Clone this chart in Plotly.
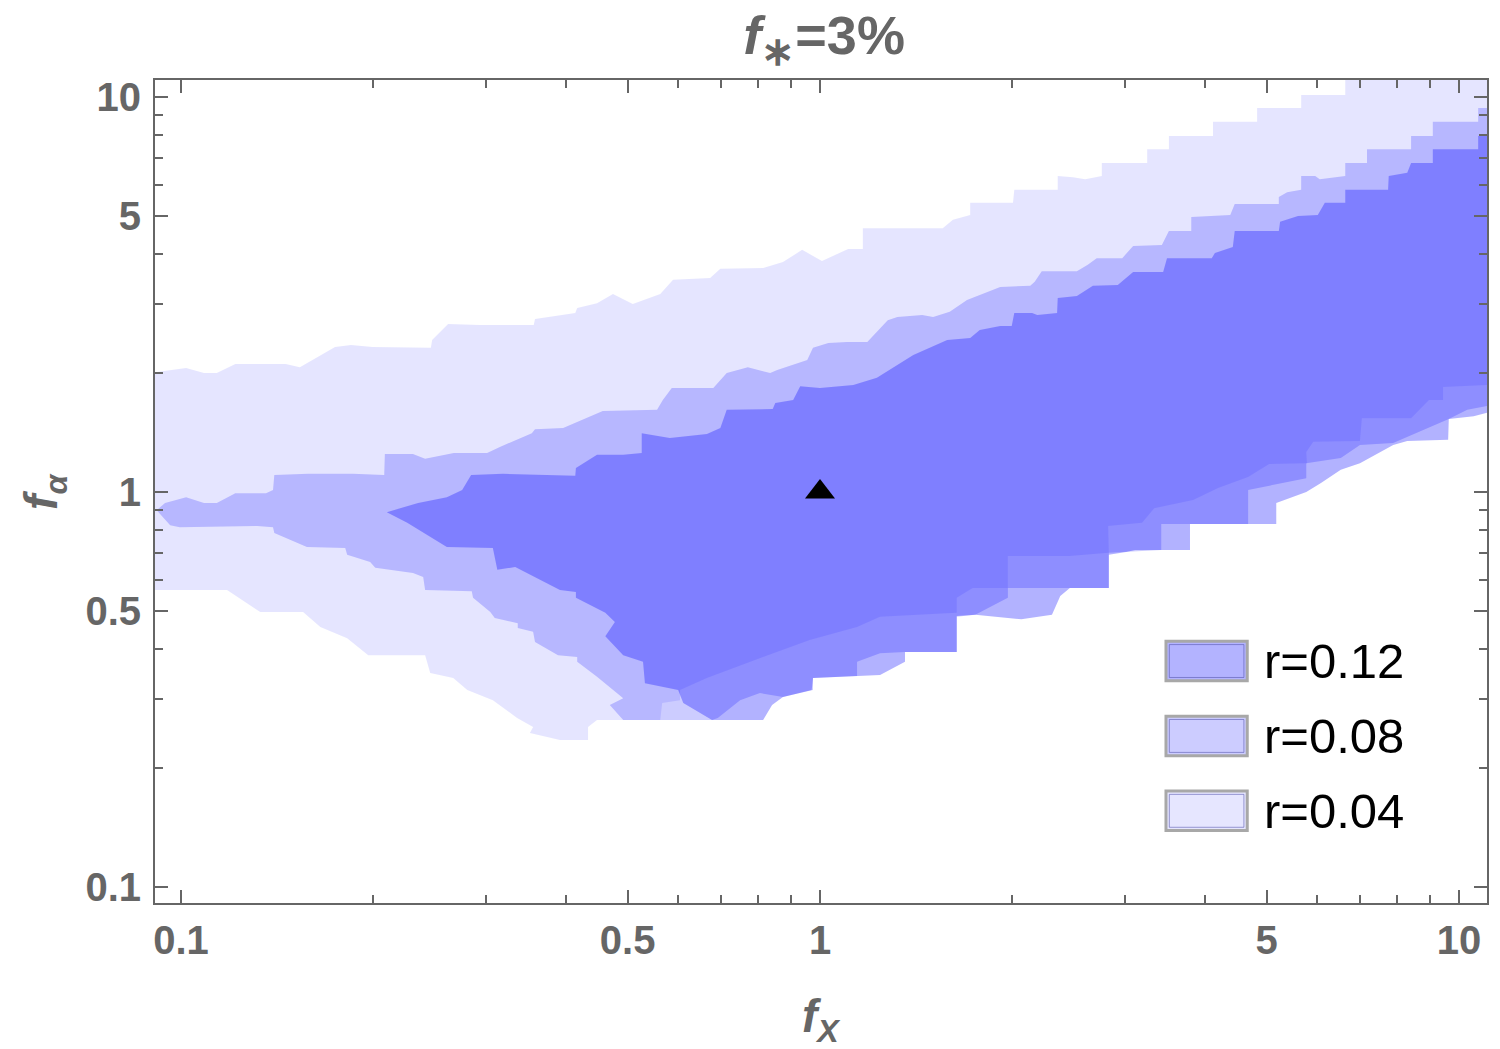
import numpy as np
import plotly.graph_objects as go

# boundaries of the three regions, as log10(f_X), log10(f_alpha)
light_upper_lx = [-1.05, -0.992, -0.964, -0.944, -0.915, -0.836, -0.814, -0.759, -0.734, -0.700,
                  -0.609, -0.607, -0.582, -0.532, -0.448, -0.446, -0.383, -0.380, -0.349, -0.324,
                  -0.293, -0.250, -0.230, -0.172, -0.156, -0.089, -0.058, -0.028, 0.003, 0.044,
                  0.067, 0.067, 0.192, 0.208, 0.235, 0.235, 0.302, 0.304, 0.372, 0.372,
                  0.396, 0.415, 0.441, 0.441, 0.512, 0.512, 0.546, 0.546, 0.615, 0.615,
                  0.684, 0.684, 0.753, 0.753, 0.822, 0.822, 1.05]
light_upper_ly = [0.301, 0.314, 0.301, 0.301, 0.324, 0.324, 0.316, 0.367, 0.372, 0.367,
                  0.365, 0.385, 0.425, 0.423, 0.423, 0.438, 0.453, 0.466, 0.478, 0.501,
                  0.476, 0.501, 0.537, 0.542, 0.565, 0.567, 0.582, 0.613, 0.585, 0.615,
                  0.615, 0.668, 0.668, 0.689, 0.701, 0.732, 0.732, 0.765, 0.765, 0.800,
                  0.797, 0.792, 0.800, 0.833, 0.833, 0.868, 0.868, 0.901, 0.901, 0.937,
                  0.937, 0.972, 0.972, 1.005, 1.005, 1.05, 1.05]
light_lower_lx = [-1.05, -0.928, -0.876, -0.809, -0.782, -0.740, -0.707, -0.618, -0.610, -0.574,
                  -0.552, -0.512, -0.474, -0.449, -0.454, -0.407, -0.363, -0.363, -0.349, -0.250,
                  -0.247, -0.219, -0.219, -0.177, -0.089, -0.016, 0.058, 0.094, 0.214, 0.214,
                  0.239, 0.294, 0.294, 0.391, 0.452, 0.451, 0.504, 0.523, 0.584, 0.623,
                  0.670, 0.703, 0.762, 0.761, 0.772, 0.845, 0.848, 0.925, 0.953, 0.975,
                  0.975, 1.05]
light_lower_ly = [-0.248, -0.248, -0.304, -0.304, -0.342, -0.370, -0.413, -0.413, -0.458, -0.471,
                  -0.501, -0.527, -0.572, -0.595, -0.610, -0.628, -0.628, -0.595, -0.577, -0.577,
                  -0.534, -0.527, -0.501, -0.471, -0.418, -0.375, -0.342, -0.316, -0.306, -0.268,
                  -0.243, -0.243, -0.162, -0.162, -0.154, -0.086, -0.078, -0.041, -0.020, 0.010,
                  0.038, 0.071, 0.073, 0.101, 0.127, 0.129, 0.187, 0.187, 0.233, 0.233,
                  0.266, 0.271]

mid_upper_lx = [-1.038, -1.025, -0.992, -0.964, -0.944, -0.915, -0.867, -0.856, -0.854, -0.801,
                -0.731, -0.682, -0.681, -0.637, -0.618, -0.573, -0.521, -0.501, -0.451, -0.446,
                -0.402, -0.360, -0.340, -0.255, -0.246, -0.232, -0.167, -0.146, -0.113, -0.078,
                -0.067, -0.020, -0.011, 0.013, 0.042, 0.074, 0.106, 0.121, 0.160, 0.177,
                0.203, 0.230, 0.269, 0.282, 0.329, 0.336, 0.347, 0.402, 0.419, 0.433,
                0.473, 0.490, 0.535, 0.546, 0.581, 0.581, 0.642, 0.649, 0.718, 0.718,
                0.731, 0.753, 0.753, 0.775, 0.782, 0.822, 0.822, 0.856, 0.856, 0.925,
                0.925, 0.959, 0.959, 1.030, 1.030, 1.05]
mid_upper_ly = [-0.046, -0.028, -0.013, -0.028, -0.028, -0.003, -0.003, 0.005, 0.043, 0.046,
                0.046, 0.043, 0.096, 0.096, 0.084, 0.099, 0.099, 0.114, 0.149, 0.159,
                0.162, 0.190, 0.205, 0.208, 0.233, 0.263, 0.263, 0.301, 0.316, 0.301,
                0.309, 0.334, 0.365, 0.377, 0.380, 0.380, 0.435, 0.443, 0.448, 0.443,
                0.456, 0.486, 0.511, 0.519, 0.522, 0.532, 0.559, 0.559, 0.575, 0.592,
                0.592, 0.623, 0.625, 0.661, 0.661, 0.696, 0.701, 0.729, 0.729, 0.747,
                0.759, 0.765, 0.800, 0.800, 0.792, 0.800, 0.833, 0.833, 0.868, 0.868,
                0.901, 0.901, 0.937, 0.937, 0.972, 0.972]
mid_lower_lx = [-1.038, -1.017, -1.002, -0.881, -0.856, -0.854, -0.803, -0.743, -0.740, -0.704,
                -0.696, -0.637, -0.621, -0.618, -0.545, -0.543, -0.516, -0.509, -0.473, -0.473,
                -0.449, -0.446, -0.410, -0.380, -0.380, -0.349, -0.324, -0.308, -0.329, -0.308,
                -0.169, -0.160, -0.125, -0.094, -0.058, -0.011, -0.011, 0.058, 0.058, 0.094,
                0.133, 0.214, 0.214, 0.243, 0.294, 0.294, 0.452, 0.452, 0.534, 0.534,
                0.670, 0.670, 0.761, 0.761, 0.815, 0.845, 0.897, 0.984, 1.013, 1.05]
mid_lower_ly = [-0.046, -0.084, -0.089, -0.086, -0.089, -0.104, -0.139, -0.142, -0.159, -0.177,
                -0.192, -0.205, -0.215, -0.248, -0.251, -0.268, -0.304, -0.319, -0.332, -0.344,
                -0.354, -0.380, -0.413, -0.418, -0.430, -0.468, -0.501, -0.522, -0.539, -0.577,
                -0.577, -0.572, -0.527, -0.509, -0.519, -0.501, -0.471, -0.466, -0.430, -0.408,
                -0.405, -0.405, -0.316, -0.311, -0.268, -0.243, -0.243, -0.154, -0.147, -0.081,
                -0.081, 0.005, 0.035, 0.073, 0.086, 0.119, 0.124, 0.185, 0.208, 0.220]

dark_upper_lx = [-0.678, -0.629, -0.584, -0.560, -0.546, -0.496, -0.383, -0.382, -0.349, -0.308,
                 -0.279, -0.279, -0.235, -0.177, -0.156, -0.146, -0.074, -0.070, -0.042, -0.031,
                 0.000, 0.052, 0.089, 0.146, 0.199, 0.235, 0.250, 0.282, 0.300, 0.304,
                 0.332, 0.340, 0.371, 0.372, 0.402, 0.427, 0.466, 0.490, 0.537, 0.543,
                 0.613, 0.618, 0.646, 0.649, 0.718, 0.720, 0.748, 0.779, 0.790, 0.822,
                 0.822, 0.889, 0.890, 0.919, 0.925, 0.959, 0.959, 1.030, 1.030, 1.05]
dark_upper_ly = [-0.051, -0.028, -0.013, 0.005, 0.043, 0.046, 0.041, 0.061, 0.094, 0.094,
                 0.099, 0.149, 0.137, 0.147, 0.162, 0.208, 0.210, 0.225, 0.233, 0.268,
                 0.263, 0.271, 0.289, 0.347, 0.385, 0.390, 0.410, 0.420, 0.420, 0.453,
                 0.453, 0.448, 0.453, 0.491, 0.496, 0.522, 0.524, 0.557, 0.557, 0.592,
                 0.592, 0.605, 0.620, 0.661, 0.661, 0.684, 0.699, 0.701, 0.732, 0.732,
                 0.765, 0.765, 0.800, 0.808, 0.833, 0.833, 0.868, 0.868, 0.901, 0.901]
dark_lower_lx = [-0.678, -0.646, -0.637, -0.584, -0.512, -0.505, -0.477, -0.446, -0.407, -0.382,
                 -0.382, -0.336, -0.321, -0.336, -0.308, -0.277, -0.274, -0.222, -0.214, -0.169,
                 -0.089, -0.075, -0.058, -0.013, -0.011, 0.094, 0.133, 0.133, 0.214, 0.214,
                 0.243, 0.315, 0.363, 0.376, 0.391, 0.452, 0.452, 0.479, 0.493, 0.579,
                 0.579, 0.714, 0.714, 0.761, 0.784, 0.815, 0.845, 0.897, 0.919, 0.983,
                 0.984, 1.023, 1.05]
dark_lower_ly = [-0.051, -0.078, -0.086, -0.139, -0.142, -0.197, -0.190, -0.215, -0.248, -0.253,
                 -0.268, -0.306, -0.329, -0.365, -0.413, -0.430, -0.484, -0.501, -0.534, -0.577,
                 -0.577, -0.539, -0.519, -0.501, -0.471, -0.463, -0.430, -0.405, -0.405, -0.314,
                 -0.311, -0.322, -0.311, -0.263, -0.243, -0.243, -0.159, -0.152, -0.147, -0.147,
                 -0.081, -0.081, -0.028, 0.000, 0.023, 0.056, 0.073, 0.119, 0.129, 0.132,
                 0.185, 0.192, 0.203]

region_names = ["r=0.04", "r=0.08", "r=0.12"]
region_alpha = [0.1, 0.2, 0.3]
legend_colors = ["#E6E6FF", "#CCCCFF", "#B3B3FF"]

fiducial_fx = [1.0]
fiducial_falpha = [1.0]

grey = "#666666"


def polygon(ux, uy, lx, ly):
    xs = list(ux) + list(lx[::-1])
    ys = list(uy) + list(ly[::-1])
    return 10 ** np.array(xs), 10 ** np.array(ys)


regions = [
    (light_upper_lx, light_upper_ly, light_lower_lx, light_lower_ly),
    (mid_upper_lx, mid_upper_ly, mid_lower_lx, mid_lower_ly),
    (dark_upper_lx, dark_upper_ly, dark_lower_lx, dark_lower_ly),
]

fig = go.Figure()
for (ux, uy, lx, ly), name, a in zip(regions, region_names, region_alpha):
    px, py = polygon(ux, uy, lx, ly)
    fig.add_trace(go.Scatter(x=px, y=py, mode="lines", fill="toself",
                             fillcolor="rgba(0,0,255,%g)" % a,
                             line=dict(width=0), name=name, hoverinfo="skip"))

fig.add_trace(go.Scatter(x=fiducial_fx, y=fiducial_falpha, mode="markers",
                         marker=dict(symbol="triangle-up", size=26, color="black"),
                         name="fiducial"))

tick_font = dict(family="Liberation Sans, Arial", size=40, color=grey, weight="bold")
major = [0.1, 0.5, 1, 5, 10]
minor = [0.2, 0.3, 0.4, 0.6, 0.7, 0.8, 0.9, 2, 3, 4, 6, 7, 8, 9]

axis_common = dict(
    type="log", showgrid=False, zeroline=False,
    showline=True, linecolor=grey, linewidth=2, mirror="ticks",
    ticks="inside", ticklen=13, tickwidth=1.5, tickcolor=grey,
    tickvals=major, ticktext=["0.1", "0.5", "1", "5", "10"],
    tickfont=tick_font,
    minor=dict(tickvals=minor, ticks="inside", ticklen=8, tickwidth=1.5,
               tickcolor=grey, showgrid=False),
)

# page body adds an 8px offset, so the figure is drawn slightly smaller
fig.update_layout(
    width=1492, height=1041,
    margin=dict(l=147, r=13, t=72, b=146),
    plot_bgcolor="white", paper_bgcolor="white",
    showlegend=False,
    title=dict(text="<i>f</i><sub><span style='font-size:40px'>∗</span></sub>=3%",
               x=0.547, xanchor="center", y=0.974, yanchor="middle",
               font=dict(family="Liberation Sans, Arial", size=54, color=grey, weight="bold")),
    xaxis=dict(axis_common, range=[-1.0407, 1.0438], ticklabelstandoff=1),
    yaxis=dict(axis_common, range=[-1.0405, 1.043], ticklabelstandoff=4),
)

lab_font = dict(family="Liberation Sans, Arial", size=46, color=grey, weight="bold")
fig.add_annotation(text="<i>f</i><sub><i>X</i></sub>", xref="paper", yref="paper",
                   x=0.5, y=-0.142, xanchor="center", yanchor="middle",
                   showarrow=False, font=lab_font)
fig.add_annotation(text="<i>f</i><sub><i>α</i></sub>", xref="paper", yref="paper",
                   x=-0.083, y=0.5, xanchor="center", yanchor="middle",
                   textangle=-90, showarrow=False, font=lab_font)

# legend drawn as boxes in the lower right corner
box_x0, box_x1 = 0.759, 0.820
box_top = [0.318, 0.227, 0.136]
box_h = 0.048
for name, col, top in zip(region_names[::-1], legend_colors[::-1], box_top):
    fig.add_shape(type="rect", xref="paper", yref="paper",
                  x0=box_x0, x1=box_x1, y0=top - box_h, y1=top,
                  fillcolor=col, line=dict(color="#A8A8A8", width=3))
    fig.add_shape(type="rect", xref="paper", yref="paper",
                  x0=box_x0 + 0.0025, x1=box_x1 - 0.0025, y0=top - box_h + 0.004, y1=top - 0.004,
                  fillcolor="rgba(0,0,0,0)", line=dict(color="rgba(80,80,170,0.55)", width=1))
    fig.add_annotation(text=name, xref="paper", yref="paper",
                       x=0.831, y=top - box_h / 2, xanchor="left", yanchor="middle",
                       showarrow=False,
                       font=dict(family="Liberation Sans, Arial", size=49, color="black"))

fig.write_html("out.html")
